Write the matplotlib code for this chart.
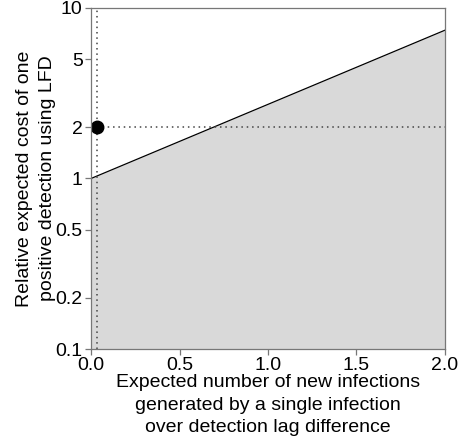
import matplotlib.pyplot as plt
from matplotlib.ticker import FixedLocator, FixedFormatter, NullLocator

plt.rcParams['font.family'] = ['Liberation Sans', 'DejaVu Sans']

# line endpoints (straight on a log scale)
line_x = [0.0, 2.0]
line_y = [1.0, 7.4]

# marked point
point_x = 0.035
point_y = 2.0

y_ticks = [0.1, 0.2, 0.5, 1, 2, 5, 10]
y_labels = ['0.1', '0.2', '0.5', '1', '2', '5', '10']
x_ticks = [0.0, 0.5, 1.0, 1.5, 2.0]
x_labels = ['0.0', '0.5', '1.0', '1.5', '2.0']

fig = plt.figure(figsize=(4.6, 4.42), dpi=100)
ax = fig.add_axes([0.198, 0.2104, 0.769, 0.7716])

ax.set_yscale('log')
ax.fill_between(line_x, 0.1, line_y, color='#d9d9d9', linewidth=0)
ax.plot(line_x, line_y, color='black', linewidth=0.9)
ax.axvline(point_x, color='#444444', linestyle=(0, (1, 2.5)), linewidth=1.1)
ax.plot([point_x, 2.0], [point_y, point_y], color='#444444', linestyle=(0, (1, 2.5)), linewidth=1.1)
ax.plot(point_x, point_y, 'o', color='black', markersize=9)

ax.set_xlim(0, 2)
ax.set_ylim(0.1, 10)
ax.yaxis.set_major_locator(FixedLocator(y_ticks))
ax.yaxis.set_major_formatter(FixedFormatter(y_labels))
ax.yaxis.set_minor_locator(NullLocator())
ax.set_xticks(x_ticks)
ax.set_xticklabels(x_labels)

for s in ax.spines.values():
    s.set_color('#777777')
    s.set_linewidth(0.9)
ax.tick_params(colors='#777777', labelcolor='black', labelsize=14, length=4, width=0.9)
ax.tick_params(axis='x', pad=2)
ax.tick_params(axis='y', pad=2)

ax.set_xlabel("Expected number of new infections\ngenerated by a single infection\nover detection lag difference",
              fontsize=14, linespacing=1.4, labelpad=0)
ax.set_ylabel("Relative expected cost of one\npositive detection using LFD",
              fontsize=14, linespacing=1.4, labelpad=0)

fig.savefig('out.png', dpi=100)
